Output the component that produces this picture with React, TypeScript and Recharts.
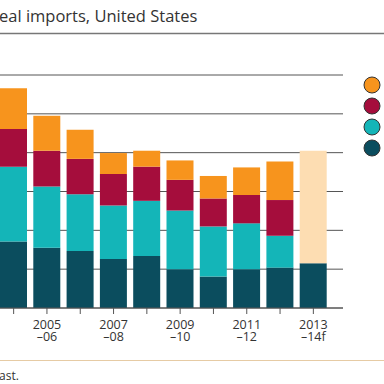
import { BarChart, Bar, XAxis, YAxis, CartesianGrid } from 'recharts';

const seasons = ['2004–05', '2005–06', '2006–07', '2007–08', '2008–09', '2009–10', '2010–11', '2011–12', '2012–13', '2013–14f'];
const darkTeal = [1.71, 1.55, 1.47, 1.26, 1.34, 1.0, 0.81, 1.0, 1.04, 1.15];
const cyan = [1.93, 1.58, 1.46, 1.38, 1.42, 1.51, 1.29, 1.18, 0.82, null];
const crimson = [0.97, 0.92, 0.91, 0.81, 0.88, 0.79, 0.72, 0.73, 0.92, null];
const orange = [1.05, 0.9, 0.75, 0.54, 0.41, 0.5, 0.58, 0.71, 0.99, null];
const forecast = [null, null, null, null, null, null, null, null, null, 2.9];
const yTicks = [0, 1, 2, 3, 4, 5, 6];

const COLORS = {
  orange: '#F7941D',
  crimson: '#A50D3C',
  cyan: '#14B5B8',
  dark: '#0B4D5E',
  forecast: '#FDDDB2',
};

const data = seasons.map((season, i) => ({
  season,
  dark: darkTeal[i],
  cyan: cyan[i],
  crimson: crimson[i],
  orange: orange[i],
  forecast: forecast[i],
}));

const legendColors = [COLORS.orange, COLORS.crimson, COLORS.cyan, COLORS.dark];

const font = '"Open Sans", sans-serif';

function SeasonTick({ x, y, payload, index }: any) {
  // only every other season gets a label
  if (index % 2 === 0) return null;
  const [first, second] = payload.value.split('–');
  return (
    <g>
      <text x={x} y={y + 13} textAnchor="middle" fontFamily={font} fontSize={12.5} fill="#333">{first}</text>
      <text x={x} y={y + 25} textAnchor="middle" fontFamily={font} fontSize={12.5} fill="#333">{'–' + second}</text>
    </g>
  );
}

export default function App() {
  return (
    <div style={{ position: 'absolute', left: 0, top: 0, width: 384, height: 384, background: '#fff', overflow: 'hidden' }}>
      <BarChart width={384} height={384} data={data} margin={{ top: 75, right: 41, bottom: 46, left: -3 }}>
        <CartesianGrid vertical={false} stroke="#555" strokeWidth={1} />
        <YAxis hide domain={[0, 6]} ticks={yTicks} />
        <XAxis
          dataKey="season"
          interval={0}
          height={30}
          padding={{ left: 0, right: 13 }}
          axisLine={{ stroke: '#555' }}
          tickLine={{ stroke: '#555' }}
          tickSize={6}
          tick={<SeasonTick />}
        />
        <Bar dataKey="dark" stackId="a" fill={COLORS.dark} barSize={27} isAnimationActive={false} />
        <Bar dataKey="cyan" stackId="a" fill={COLORS.cyan} barSize={27} isAnimationActive={false} />
        <Bar dataKey="crimson" stackId="a" fill={COLORS.crimson} barSize={27} isAnimationActive={false} />
        <Bar dataKey="orange" stackId="a" fill={COLORS.orange} barSize={27} isAnimationActive={false} />
        <Bar dataKey="forecast" stackId="a" fill={COLORS.forecast} barSize={27} isAnimationActive={false} />
      </BarChart>
      <svg width={384} height={384} style={{ position: 'absolute', left: 0, top: 0, pointerEvents: 'none' }}>
        <text x={-1} y={22} fontFamily={font} fontSize={16.5} fill="#333">eal imports, United States</text>
        <line x1={0} x2={384} y1={33.5} y2={33.5} stroke="#777" strokeWidth={1.5} />
        {legendColors.map((c, i) => (
          <circle key={c} cx={372} cy={85 + i * 21} r={8} fill={c} stroke="#333" strokeWidth={1} />
        ))}
        <line x1={0} x2={384} y1={360.5} y2={360.5} stroke="#E6CBA4" strokeWidth={1} />
        <text x={-1} y={380} fontFamily={font} fontSize={12} fill="#333">ast.</text>
      </svg>
    </div>
  );
}
